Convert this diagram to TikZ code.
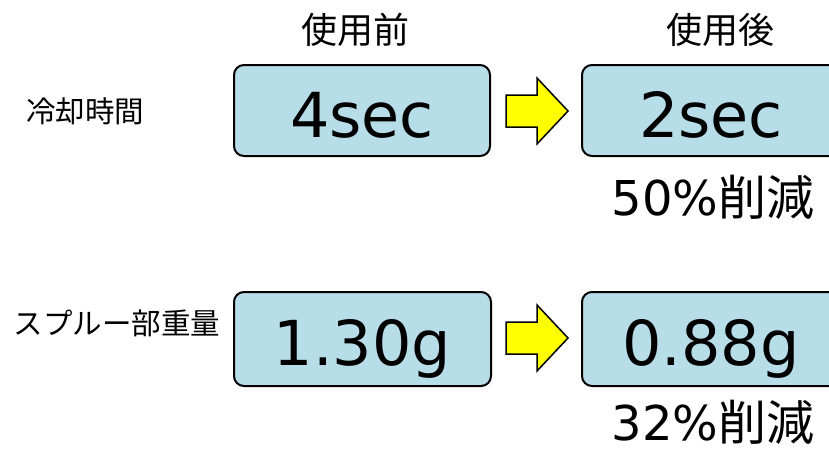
\documentclass[tikz,border=0pt]{standalone}
\usepackage{fontspec}
\setmainfont{DejaVu Sans}
\newfontfamily\cjk{Noto Sans CJK JP}
\definecolor{boxblue}{HTML}{B7DDE8}
\definecolor{arrowyellow}{HTML}{FFFF00}
\tikzset{
  valbox/.style={draw=black, line width=2pt, fill=boxblue, rounded corners=10pt,
    inner sep=0pt, font=\fontsize{62}{62}\selectfont, text height=53pt, text depth=0pt},
  blockarrow/.style={draw=black, line width=1.5pt, fill=arrowyellow, line join=miter},
  headlabel/.style={font=\cjk\fontsize{36}{36}\selectfont, inner sep=0pt},
  rowlabel/.style={font=\cjk\fontsize{29.5}{30}\selectfont, inner sep=0pt},
  cutlabel/.style={font=\fontsize{48}{48}\selectfont, inner sep=0pt}
}
\newcommand{\yarrow}[3]{% name, tip x, center y
  \draw[blockarrow] (#2-62,#3-16) -- (#2-31,#3-16) -- (#2-31,#3-33) -- (#2,#3)
    -- (#2-31,#3+33) -- (#2-31,#3+16) -- (#2-62,#3+16) -- cycle;
  \coordinate (#1) at (#2-31,#3);
}
\begin{document}
\begin{tikzpicture}[x=1pt,y=-1pt]
\useasboundingbox (0,0) rectangle (829,450);
\clip (0,0) rectangle (829,450);
% column headers
\node[headlabel] (hbefore) at (355,30) {使用前};
\node[headlabel] (hafter) at (720,30) {使用後};
% row labels
\node[rowlabel] (lcool) at (85,111) {冷却時間};
\node[rowlabel] (lsprue) at (117,323) {スプルー部重量};
% row 1
\node[valbox, minimum width=256pt, minimum height=91pt] (b1) at (362,110.5) {4sec};
\node[valbox, minimum width=258pt, minimum height=91pt] (b2) at (711,110.5) {2sec};
\yarrow{a1}{568}{111}
\node[cutlabel] (c1) at (713,197) {50\%{\cjk 削減}};
% row 2
\node[valbox, minimum width=257pt, minimum height=94pt] (b3) at (362.5,339) {1.30g};
\node[valbox, minimum width=258pt, minimum height=94pt] (b4) at (711,339) {0.88g};
\yarrow{a2}{568}{338}
\node[cutlabel] (c2) at (713,422) {32\%{\cjk 削減}};
\end{tikzpicture}
\end{document}
